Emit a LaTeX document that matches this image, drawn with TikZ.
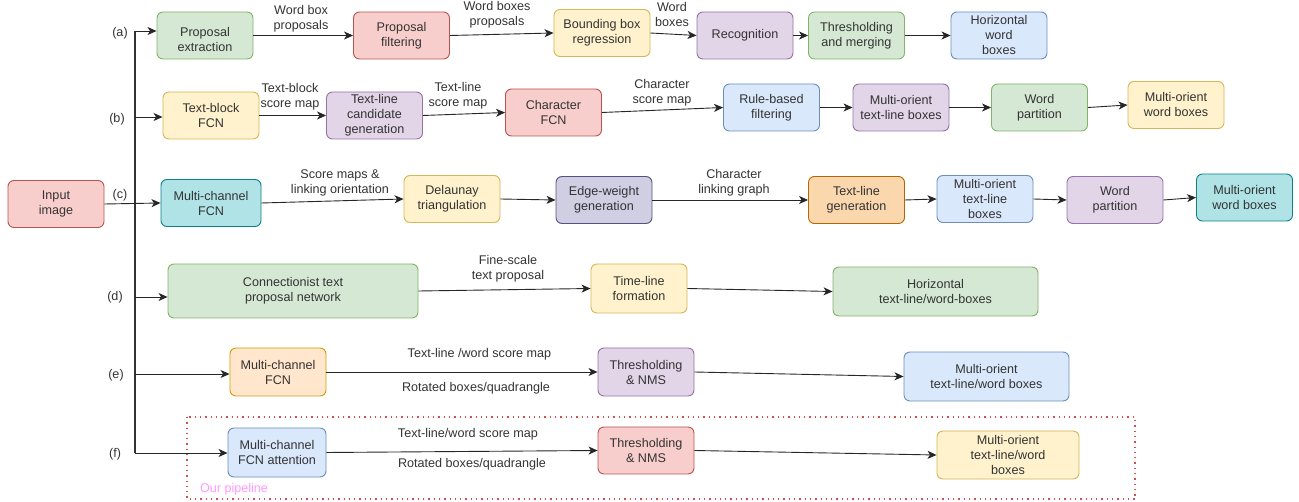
\documentclass[tikz,border=0pt]{standalone}
\usepackage{fontspec}
\setmainfont{Liberation Sans}
\usetikzlibrary{arrows.meta}
\definecolor{txt}{HTML}{333333}
\definecolor{gfill}{HTML}{D5E8D4}\definecolor{gdraw}{HTML}{82B366}
\definecolor{rfill}{HTML}{F8CECC}\definecolor{rdraw}{HTML}{B85450}
\definecolor{yfill}{HTML}{FFF2CC}\definecolor{ydraw}{HTML}{D6B656}
\definecolor{pfill}{HTML}{E1D5E7}\definecolor{pdraw}{HTML}{9673A6}
\definecolor{bfill}{HTML}{DAE8FC}\definecolor{bdraw}{HTML}{6C8EBF}
\definecolor{tfill}{HTML}{B0E3E6}\definecolor{tdraw}{HTML}{0E8088}
\definecolor{ofill}{HTML}{FAD7AC}\definecolor{odraw}{HTML}{B46504}
\definecolor{lofill}{HTML}{FFE6CC}\definecolor{lodraw}{HTML}{D79B00}
\definecolor{dpfill}{HTML}{D0CEE2}\definecolor{dpdraw}{HTML}{56517E}
\definecolor{dotred}{HTML}{D05050}
\definecolor{pink}{HTML}{FF99FF}
\newcommand\myfs{\fontsize{12.6}{15}\selectfont}
\tikzset{
  box/.style={rounded corners=6pt, draw, line width=0.9pt, minimum width=96pt,
    minimum height=47pt, align=center, inner sep=2pt, text=txt, font=\myfs},
  lbl/.style={align=center, text=txt, font=\myfs, inner sep=0pt},
  arr/.style={-{Stealth[length=9pt,width=8pt,inset=2.5pt]}, line width=0.9pt, draw=black!85},
  bus/.style={line width=1.7pt, draw=black!80},
  gbox/.style={box, fill=gfill, draw=gdraw},
  rbox/.style={box, fill=rfill, draw=rdraw},
  ybox/.style={box, fill=yfill, draw=ydraw},
  pbox/.style={box, fill=pfill, draw=pdraw},
  bbox/.style={box, fill=bfill, draw=bdraw},
  tbox/.style={box, fill=tfill, draw=tdraw},
  obox/.style={box, fill=ofill, draw=odraw},
  lobox/.style={box, fill=lofill, draw=lodraw},
  dpbox/.style={box, fill=dpfill, draw=dpdraw},
}
\begin{document}
\begin{tikzpicture}[x=1pt, y=-1pt]
\useasboundingbox (0,0) rectangle (1299,502);

% pipeline frame
\draw[dotred, line width=1.3pt, dash pattern=on 1.3pt off 4pt] (187,417) rectangle (1135,499);
\node[lbl, text=pink] (our) at (234,489) {Our pipeline};

% bus
\coordinate (ba) at (135,31);
\coordinate (bb) at (135,117);
\coordinate (bd) at (135,297);
\coordinate (be) at (135,374);
\coordinate (bf) at (135,453);
\draw[bus] (ba) -- (bf);

% labels (a)-(f)
\node[lbl] (la) at (120,33) {(a)};
\node[lbl] (lb) at (117,119) {(b)};
\node[lbl] (lc) at (120,195) {(c)};
\node[lbl] (ld) at (115,297) {(d)};
\node[lbl] (le) at (116,375) {(e)};
\node[lbl] (lf) at (115,454) {(f)};

% input
\node[rbox] (in) at (56,204) {Input\\image};

% row a
\node[gbox] (pe) at (205,35.5) {\rule{0pt}{17pt}Proposal\\extraction};
\node[rbox] (pf) at (401.5,35.5) {Proposal\\filtering};
\node[ybox] (bbr) at (602,33) {Bounding box\\regression};
\node[pbox] (rec) at (745,35.5) {Recognition};
\node[gbox] (tm) at (856.5,35.5) {Thresholding\\and merging};
\node[bbox] (hwb) at (999,35.5) {Horizontal\\word\\boxes};
\node[lbl] (l1) at (301,19) {Word box\\proposals};
\node[lbl] (l2) at (497,15) {Word boxes\\proposals};
\node[lbl] (l3) at (672,15) {Word\\boxes};
\draw[arr] (ba) -- (ba -| pe.west);
\draw[arr] (pe.east) -- (pf.west);
\draw[arr] (pf.east) -- (bbr.west);
\draw[arr] (bbr.east) -- (rec.west);
\draw[arr] (rec.east) -- (tm.west);
\draw[arr] (tm.east) -- (hwb.west);

% row b
\node[ybox] (tbf) at (211,115.5) {Text-block\\FCN};
\node[pbox] (tlc) at (374.5,115.5) {Text-line\\candidate\\generation};
\node[rbox] (cf) at (553.5,112.5) {Character\\FCN};
\node[bbox] (rbf) at (771.5,107.5) {Rule-based\\filtering};
\node[pbox] (mot) at (901,107.5) {Multi-orient\\text-line boxes};
\node[gbox] (wp) at (1039.5,107.5) {Word\\partition};
\node[ybox] (mow) at (1176,105) {Multi-orient\\word boxes};
\node[lbl] (l4) at (290,97) {Text-block\\score map};
\node[lbl] (l5) at (458,96) {Text-line\\score map};
\node[lbl] (l6) at (662,93) {Character\\score map};
\draw[arr] (bb) -- (bb -| tbf.west);
\draw[arr] (tbf.east) -- (tlc.west);
\draw[arr] (tlc.east) -- (cf.west);
\draw[arr] (cf.east) -- (rbf.west);
\draw[arr] (rbf.east) -- (mot.west);
\draw[arr] (mot.east) -- (wp.west);
\draw[arr] (wp.east) -- (mow.west);

% row c
\node[tbox, minimum width=100pt] (mcf) at (211,203) {Multi-channel\\FCN};
\node[ybox] (del) at (452,199) {Delaunay\\triangulation};
\node[dpbox] (ewg) at (604,200) {Edge-weight\\generation};
\node[obox] (tlg) at (856.5,200) {Text-line\\generation};
\node[bbox] (motb) at (985,199) {Multi-orient\\text-line\\boxes};
\node[pbox] (wp2) at (1115,200) {Word\\partition};
\node[tbox] (mow2) at (1244.5,197.5) {Multi-orient\\word boxes};
\node[lbl] (l7) at (340,183) {Score maps \&\\linking orientation};
\node[lbl] (l8) at (734,183) {Character\\linking graph};
\draw[arr] (in.east) -- (mcf.west);
\draw[arr] (mcf.east) -- (del.west);
\draw[arr] (del.east) -- (ewg.west);
\draw[arr] (ewg.east) -- (tlg.west);
\draw[arr] (tlg.east) -- (motb.west);
\draw[arr] (motb.east) -- (wp2.west);
\draw[arr] (wp2.east) -- (mow2.west);

% row d
\node[gbox, minimum width=250pt, minimum height=54pt] (ctp) at (293,291) {Connectionist text\\proposal network};
\node[ybox, minimum height=49pt] (tlf) at (639,288.5) {Time-line\\formation};
\node[gbox, minimum width=205pt, minimum height=49pt] (hor) at (935.5,291.5) {Horizontal\\text-line/word-boxes};
\node[lbl] (l9) at (508,269) {Fine-scale\\text proposal};
\draw[arr] (bd) -- (bd -| ctp.west);
\draw[arr] (ctp.east) -- (tlf.west);
\draw[arr] (tlf.east) -- (hor.west);

% row e
\node[lobox, minimum height=48pt] (mcf2) at (278,372) {Multi-channel\\FCN};
\node[pbox, minimum height=48pt] (tn) at (646,372) {Thresholding\\\& NMS};
\node[bbox, minimum width=165pt, minimum height=49pt] (mo) at (986.5,376.5) {Multi-orient\\text-line/word boxes};
\node[lbl] (l10) at (479.5,354) {Text-line /word score map};
\node[lbl] (l11) at (476,388) {Rotated boxes/quadrangle};
\draw[arr] (be) -- (be -| mcf2.west);
\draw[arr] (mcf2.east) -- (tn.west);
\draw[arr] (tn.east) -- (mo.west);

% row f
\node[bbox, minimum width=98pt, minimum height=49pt] (mca) at (277,452.5) {Multi-channel\\FCN attention};
\node[rbox] (tn2) at (646,450.5) {Thresholding\\\& NMS};
\node[ybox, minimum width=142pt, minimum height=48pt] (mo2) at (1008,455) {Multi-orient\\text-line/word\\boxes};
\node[lbl] (l12) at (468,434) {Text-line/word score map};
\node[lbl] (l13) at (472,464) {Rotated boxes/quadrangle};
\draw[arr] (bf) -- (bf -| mca.west);
\draw[arr] (mca.east) -- (tn2.west);
\draw[arr] (tn2.east) -- (mo2.west);
\end{tikzpicture}
\end{document}
